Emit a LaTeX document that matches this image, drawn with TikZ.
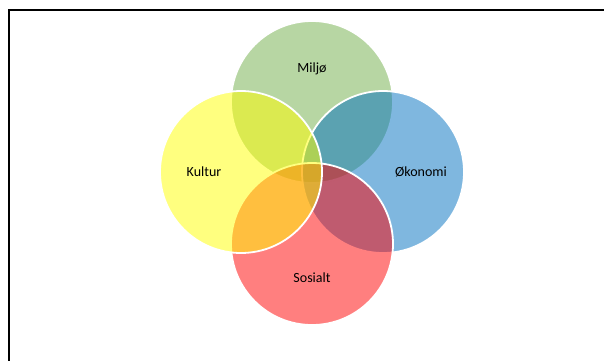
\documentclass[tikz,border=0pt]{standalone}
\usepackage{fontspec}
\setmainfont{Carlito}
\usetikzlibrary{shapes, positioning, calc}

\definecolor{miljogreen}{RGB}{112,173,71}
\definecolor{kulturyellow}{RGB}{255,255,0}
\definecolor{okonomiblue}{RGB}{0,112,192}
\definecolor{sosialtred}{RGB}{255,0,0}

\begin{document}
\begin{tikzpicture} [
    x=1pt, y=-1pt,
    ring/.style={circle, draw=white, line width=1.8pt, fill opacity=0.5, minimum size=162pt, inner sep=0pt},
    tag/.style={font=\fontsize{14}{16}\selectfont, text=black}
]

% Frame and size
\useasboundingbox (0,0) rectangle (604,360);
\draw[line width=2pt] (9,375) -- (9,10) -- (620,10);

% Circles
\node[ring, fill=miljogreen] (miljo) at (312,102) {};
\node[ring, fill=okonomiblue] (okonomi) at (383,172) {};
\node[ring, fill=sosialtred] (sosialt) at (312,244) {};
\node[ring, fill=kulturyellow] (kultur) at (241,172) {};

% Labels
\node[tag] (miljotxt) at ($(miljo)+(0,-33)$) {Miljø};
\node[tag] (kulturtxt) at ($(kultur)+(-37,0)$) {Kultur};
\node[tag] (okonomitxt) at ($(okonomi)+(38,0)$) {Økonomi};
\node[tag] (sosialttxt) at ($(sosialt)+(0,34)$) {Sosialt};

\end{tikzpicture}
\end{document}
